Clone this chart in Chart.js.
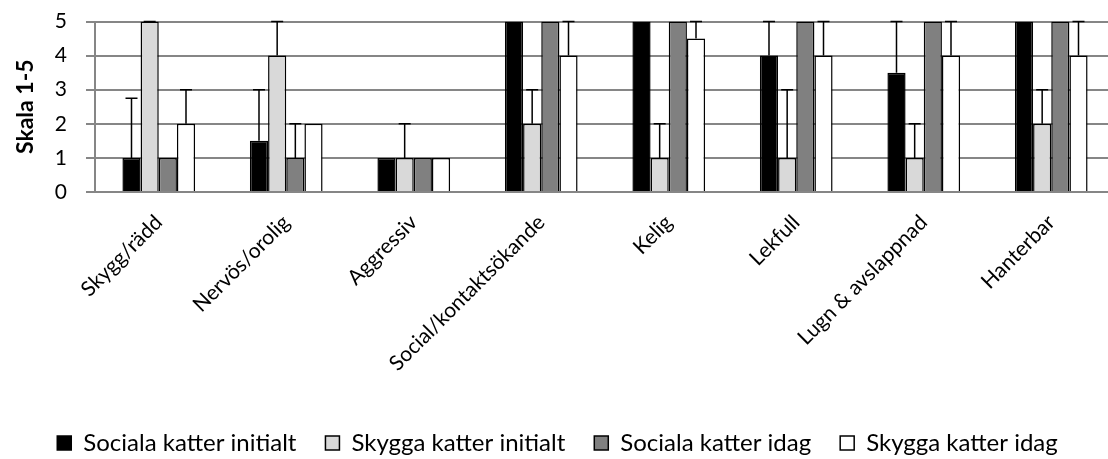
<!DOCTYPE html>
<html>
<head>
<meta charset="utf-8">
<script src="https://cdn.jsdelivr.net/npm/chart.js@4"></script>
<style>
  html, body { margin: 0; padding: 0; background: #fff; overflow: hidden; }
  #wrap { width: 1115px; height: 459px; }
</style>
</head>
<body>
<div id="wrap"><canvas id="grafico"></canvas></div>
<script>
const KATEGORIER = ["Skygg/rädd", "Nervös/orolig", "Aggressiv", "Social/kontaktsökande",
                    "Kelig", "Lekfull", "Lugn & avslappnad", "Hanterbar"];

const SERIER = ["Sociala katter initialt", "Skygga katter initialt",
                "Sociala katter idag", "Skygga katter idag"];

// medianer per egenskap
const socialaInitialt = [1, 1.5, 1, 5, 5, 4, 3.5, 5];
const skyggaInitialt  = [5, 4, 1, 2, 1, 1, 1, 2];
const socialaIdag     = [1, 1, 1, 5, 5, 5, 5, 5];
const skyggaIdag      = [2, 2, 1, 4, 4.5, 4, 4, 4];

// övre ände på felstaplarna (null = ingen stapel)
const socialaInitialtMax = [2.75, 3, null, null, null, 5, 5, null];
const skyggaInitialtMax  = [5, 5, 2, 3, 2, 3, 2, 3];
const socialaIdagMax     = [null, 2, null, null, null, null, null, null];
const skyggaIdagMax      = [3, null, null, 5, 5, 5, 5, 5];

const Y_TICKS = [0, 1, 2, 3, 4, 5];

const FONT = "Lato, 'Open Sans', sans-serif";
const GRID = "#868686";

// ritar felstaplar uppåt med skalans egna pixelvärden
const felstaplar = {
    id: "felstaplar",
    afterDatasetsDraw(chart) {
        const ctx = chart.ctx;
        const y = chart.scales.y;
        ctx.save();
        ctx.strokeStyle = "#000";
        ctx.lineWidth = 1.5;
        chart.data.datasets.forEach((ds, i) => {
            const meta = chart.getDatasetMeta(i);
            meta.data.forEach((bar, j) => {
                const max = ds.felMax[j];
                if (max == null) return;
                const y0 = y.getPixelForValue(ds.data[j]);
                const y1 = y.getPixelForValue(max);
                ctx.beginPath();
                ctx.moveTo(bar.x, y0);
                ctx.lineTo(bar.x, y1);
                ctx.moveTo(bar.x - 6, y1);
                ctx.lineTo(bar.x + 6, y1);
                ctx.stroke();
            });
        });
        ctx.restore();
    }
};

function serie(namn, data, felMax, farg) {
    return {
        label: namn,
        data: data,
        felMax: felMax,
        backgroundColor: farg,
        borderColor: "#000",
        borderWidth: 1.5,
        categoryPercentage: 0.57,
        barPercentage: 1
    };
}

new Chart(document.getElementById("grafico"), {
    type: "bar",
    data: {
        labels: KATEGORIER,
        datasets: [
            serie(SERIER[0], socialaInitialt, socialaInitialtMax, "#000000"),
            serie(SERIER[1], skyggaInitialt, skyggaInitialtMax, "#d9d9d9"),
            serie(SERIER[2], socialaIdag, socialaIdagMax, "#808080"),
            serie(SERIER[3], skyggaIdag, skyggaIdagMax, "#ffffff")
        ]
    },
    options: {
        responsive: true,
        maintainAspectRatio: false,
        animation: false,
        layout: { padding: { top: 10, left: 0, right: 0, bottom: -6 } },
        plugins: {
            legend: {
                position: "bottom",
                labels: {
                    color: "#000",
                    font: { family: FONT, size: 24 },
                    boxWidth: 14,
                    boxHeight: 14,
                    padding: 29
                }
            },
            tooltip: { enabled: false }
        },
        scales: {
            x: {
                grid: { display: false },
                border: { display: false },
                ticks: {
                    color: "#000",
                    font: { family: FONT, size: 21 },
                    autoSkip: false,
                    minRotation: 45,
                    maxRotation: 45,
                    padding: 10
                },
                afterFit: function (scale) { scale.height = 210; }
            },
            y: {
                min: 0,
                max: 5,
                afterBuildTicks: function (scale) {
                    scale.ticks = Y_TICKS.map(v => ({ value: v }));
                },
                grid: { color: GRID, lineWidth: 2, tickLength: 17, tickBorderDash: [0, 8, 9, 100] },
                border: { color: GRID, width: 2 },
                ticks: {
                    color: "#000",
                    font: { family: FONT, size: 21, lineHeight: 1 },
                    padding: 11
                },
                title: {
                    display: true,
                    text: "Skala 1-5",
                    color: "#000",
                    font: { family: FONT, size: 23, weight: "bold" },
                    padding: { top: 12, bottom: 0 }
                },
                afterFit: function (scale) { scale.width = 95; }
            }
        }
    },
    plugins: [felstaplar]
});
</script>
</body>
</html>
